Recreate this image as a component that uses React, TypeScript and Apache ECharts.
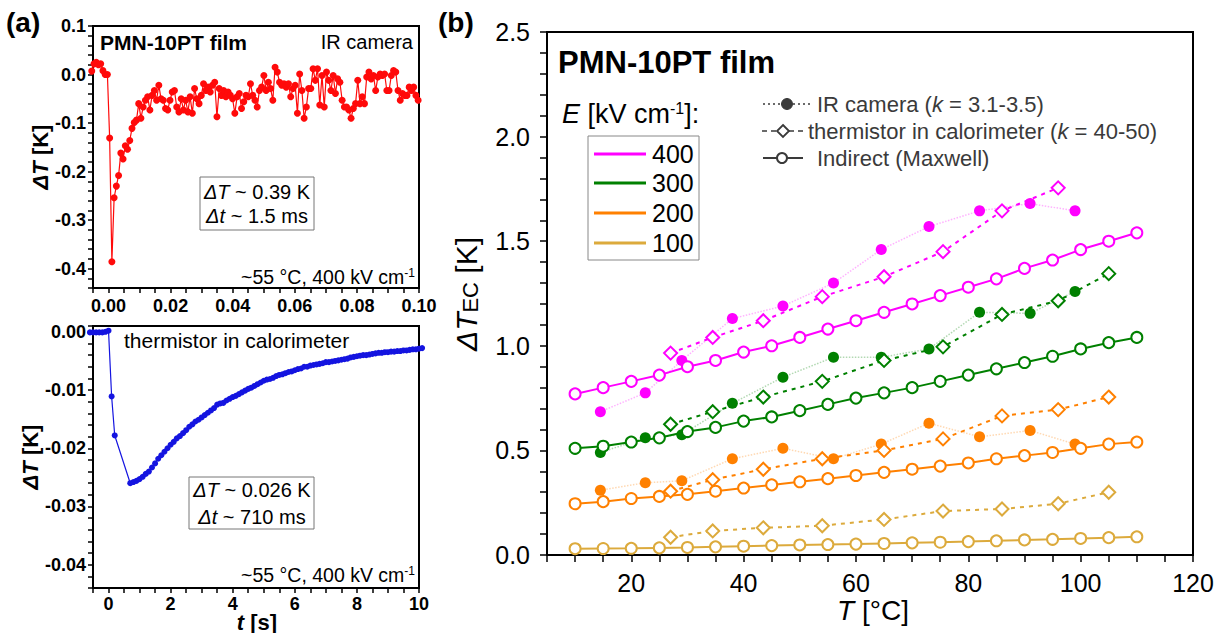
import React, { useEffect, useRef } from 'react';
import * as echarts from 'echarts';

const FONT = '"Liberation Sans", Arial, Helvetica, sans-serif';

// ---------- Panel (a) top: IR camera transient (frame period ~0.72 ms) ----------
const IR_T0 = -0.0054;
const IR_FRAME = 0.00072;
const IR_VALUES = [
  0.007, 0.022, 0.025, 0.02, 0.022, 0.008, 0, 0, -0.131, -0.386,
  -0.254, -0.23, -0.208, -0.162, -0.174, -0.147, -0.154, -0.136, -0.111, -0.099,
  -0.094, -0.06, -0.09, -0.067, -0.053, -0.046, -0.073, -0.043, -0.033, -0.053,
  -0.022, -0.05, -0.053, -0.07, -0.073, -0.053, -0.036, -0.033, -0.067, -0.077,
  -0.05, -0.073, -0.053, -0.077, -0.046, -0.08, -0.029, -0.05, -0.06, -0.043,
  -0.019, -0.033, -0.026, -0.036, -0.022, -0.016, -0.087, -0.029, -0.043, -0.033,
  -0.046, -0.036, -0.043, -0.05, -0.08, -0.046, -0.039, -0.07, -0.056, -0.043,
  -0.046, -0.019, -0.043, -0.053, -0.067, -0.033, -0.026, -0.002, -0.033, -0.016,
  -0.029, -0.053, 0.015, 0.005, -0.016, -0.022, -0.019, -0.026, -0.019, -0.046,
  -0.029, -0.022, -0.08, 0.001, -0.033, -0.09, -0.067, -0.029, -0.029, 0.012,
  -0.012, 0.012, -0.063, -0.002, -0.067, 0.005, -0.012, -0.033, -0.002, -0.039,
  -0.009, -0.016, -0.053, -0.067, -0.067, -0.073, -0.09, -0.07, -0.06, -0.012,
  -0.06, -0.046, -0.06, -0.005, 0.005, -0.009, -0.002, -0.033, -0.005, 0.001,
  -0.002, 0.001, -0.033, -0.033, -0.002, 0.008, 0.005, -0.033, -0.053, -0.039,
  -0.043, -0.043, -0.026, -0.033, -0.026, -0.043, -0.053,
];

// ---------- Panel (a) bottom: thermistor in calorimeter ----------
const TH_T_PRE = [-0.6, -0.5, -0.4, -0.3, -0.2, -0.1, 0, 0.1, 0.2];
const TH_V_PRE = [-0.0001, -0.0001, -0.0001, -0.0001, -0.0001, 0, 0.0002, -0.0111, -0.0178];
const TH_T_START = 0.7;
const TH_SAMPLE = 0.1;
const TH_VALUES = [
  -0.026, -0.0258, -0.0256, -0.0253, -0.0249, -0.0244, -0.024, -0.0233, -0.0226, -0.0218, -0.0212, -0.0206, -0.02,
  -0.0194, -0.0189, -0.0183, -0.0179, -0.0174, -0.0169, -0.0163, -0.0159, -0.0154, -0.0151,
  -0.0147, -0.0143, -0.0139, -0.0135, -0.0131, -0.0125, -0.0123, -0.0122, -0.0118, -0.0115,
  -0.0112, -0.011, -0.0107, -0.0104, -0.0101, -0.0098, -0.0096, -0.0093, -0.009, -0.0087,
  -0.0084, -0.0082, -0.0081, -0.0079, -0.0076, -0.0074, -0.0073, -0.0071, -0.0069, -0.0068,
  -0.0066, -0.0064, -0.0063, -0.006, -0.006, -0.0058, -0.0057, -0.0056, -0.0055, -0.0054,
  -0.0052, -0.0052, -0.0051, -0.005, -0.0049, -0.0048, -0.0047, -0.0046, -0.0044, -0.0043,
  -0.0042, -0.0041, -0.004, -0.004, -0.0039, -0.0038, -0.0037, -0.0036, -0.0036, -0.0035,
  -0.0035, -0.0034, -0.0034, -0.0033, -0.0033, -0.0032, -0.0032, -0.0031, -0.003, -0.003,
  -0.0029, -0.0028,
];

// ---------- Panel (b) ----------
const E_FIELDS = ['400', '300', '200', '100'];
const E_COLORS = ['#ff00ff', '#008000', '#ff8000', '#dcaa3c'];

const T_IND = [10, 15, 20, 25, 30, 35, 40, 45, 50, 55, 60, 65, 70, 75, 80, 85, 90, 95, 100, 105, 110];
const IND_400 = [0.77, 0.8, 0.83, 0.86, 0.9, 0.93, 0.97, 1.0, 1.04, 1.08, 1.12, 1.16, 1.2, 1.24, 1.28, 1.32, 1.37, 1.41, 1.46, 1.5, 1.54];
const IND_300 = [0.51, 0.52, 0.54, 0.56, 0.59, 0.61, 0.64, 0.66, 0.69, 0.72, 0.75, 0.775, 0.8, 0.83, 0.86, 0.89, 0.92, 0.95, 0.985, 1.015, 1.04];
const IND_200 = [0.245, 0.255, 0.27, 0.28, 0.29, 0.305, 0.32, 0.335, 0.35, 0.365, 0.38, 0.395, 0.41, 0.425, 0.44, 0.46, 0.475, 0.49, 0.51, 0.53, 0.54];
const IND_100 = [0.03, 0.031, 0.032, 0.034, 0.036, 0.039, 0.042, 0.045, 0.048, 0.05, 0.052, 0.055, 0.058, 0.061, 0.064, 0.068, 0.072, 0.075, 0.079, 0.083, 0.087];

const T_THERM = [27, 34.5, 43.5, 54, 65, 75.5, 86, 96, 105];
const THERM_400 = [0.965, 1.04, 1.12, 1.235, 1.33, 1.45, 1.645, 1.755];
const THERM_300 = [0.625, 0.685, 0.755, 0.83, 0.93, 0.995, 1.15, 1.215, 1.345];
const THERM_200 = [0.305, 0.36, 0.41, 0.46, 0.5, 0.555, 0.665, 0.695, 0.755];
const THERM_100 = [0.085, 0.115, 0.13, 0.14, 0.17, 0.21, 0.22, 0.245, 0.3];

const T_IR = [14.5, 22.5, 29, 38, 47, 56, 64.5, 73, 82, 91, 99];
const IR_400 = [0.685, 0.775, 0.93, 1.13, 1.19, 1.3, 1.46, 1.57, 1.645, 1.68, 1.645];
const IR_300 = [0.49, 0.56, 0.575, 0.725, 0.85, 0.945, 0.945, 0.985, 1.16, 1.155, 1.26];
const IR_200 = [0.31, 0.345, 0.355, 0.46, 0.51, 0.46, 0.53, 0.63, 0.565, 0.595, 0.53];
const IR_100: number[] = [];

const IND_SETS = [IND_400, IND_300, IND_200, IND_100];
const THERM_SETS = [THERM_400, THERM_300, THERM_200, THERM_100];
const IR_SETS = [IR_400, IR_300, IR_200, IR_100];

const zip = (xs: number[], ys: number[]) => ys.map((y, i) => [xs[i], y]);
const isMul = (v: number, step: number) => Math.abs(v / step - Math.round(v / step)) < 1e-6;

function makeAxis(
  gridIndex: number, min: number, max: number, interval: number, major: number,
  fmt: (v: number) => string, fontSize: number, bold: boolean, margin: number, tickLen = 5
) {
  return {
    type: 'value', gridIndex, min, max, interval,
    axisLine: { show: true, onZero: false, lineStyle: { color: '#000', width: 2 } },
    axisTick: { show: true, length: tickLen, lineStyle: { color: '#000', width: 1.5 } },
    splitLine: { show: false },
    axisLabel: {
      show: true, color: '#000', fontSize, fontFamily: FONT, fontWeight: bold ? 'bold' : 'normal', margin,
      formatter: (v: number) => (isMul(v, major) ? fmt(v) : ''),
    },
  };
}

function txt(x: number, y: number, text: string, size: number, o: any = {}) {
  const base = { fontSize: size, fontFamily: FONT, fontWeight: o.weight || 'normal', fill: o.fill || '#000' };
  return {
    type: 'text', x, y, rotation: o.rotation || 0, z: 100,
    style: {
      text, ...base, align: o.align || 'left', verticalAlign: 'middle',
      rich: {
        i: { ...base, fontStyle: 'italic' },
        sup: { ...base, fontSize: Math.round(size * 0.6), verticalAlign: 'top' },
        sub: { ...base, fontSize: Math.round(size * 0.72), verticalAlign: 'bottom' },
      },
    },
  };
}

export default function App() {
  const ref = useRef<HTMLDivElement>(null);
  useEffect(() => {
    document.body.style.margin = '0';
    const chart = echarts.init(ref.current!, undefined, { renderer: 'svg' });

    const irData = IR_VALUES.map((v, i) => [IR_T0 + i * IR_FRAME, v]);
    const thData = zip(TH_T_PRE, TH_V_PRE).concat(
      TH_VALUES.map((v, i) => [Math.round((TH_T_START + i * TH_SAMPLE) * 10) / 10, v])
    );

    const series: any[] = [
      {
        type: 'line', xAxisIndex: 0, yAxisIndex: 0, data: irData, clip: false,
        symbol: 'circle', symbolSize: 7, color: '#ff0a0a', lineStyle: { width: 1.2, color: '#ff0a0a' },
      },
      {
        type: 'line', xAxisIndex: 1, yAxisIndex: 1, data: thData, clip: false,
        symbol: 'circle', symbolSize: 6, color: '#1414e0', lineStyle: { width: 1.2, color: '#1414e0' },
      },
    ];

    E_FIELDS.forEach((_, k) => {
      const c = E_COLORS[k];
      if (IR_SETS[k].length) {
        series.push({
          type: 'line', xAxisIndex: 2, yAxisIndex: 2, data: zip(T_IR, IR_SETS[k]),
          symbol: 'circle', symbolSize: 11, color: c,
          itemStyle: { color: c },
          lineStyle: { type: 'dotted', width: 1.5, color: c, opacity: 0.3 },
        });
      }
      series.push({
        type: 'line', xAxisIndex: 2, yAxisIndex: 2, data: zip(T_THERM, THERM_SETS[k]),
        symbol: 'emptyDiamond', symbolSize: 13, color: c,
        itemStyle: { color: c, borderColor: c, borderWidth: 2.5 },
        lineStyle: { type: [4, 5], width: 2, color: c },
      });
      series.push({
        type: 'line', xAxisIndex: 2, yAxisIndex: 2, data: zip(T_IND, IND_SETS[k]),
        symbol: 'emptyCircle', symbolSize: 11, color: c,
        itemStyle: { color: c, borderColor: c, borderWidth: 2 },
        lineStyle: { type: 'solid', width: 2, color: c },
      });
    });

    const LG = '#3a3a3a';
    const graphics: any[] = [
      txt(6, 22, '(a)', 28, { weight: 'bold' }),
      txt(438, 22, '(b)', 28, { weight: 'bold' }),
      // panel a top
      txt(100, 42, 'PMN-10PT film', 21, { weight: 'bold' }),
      txt(413, 42, 'IR camera', 20, { align: 'right' }),
      { type: 'rect', z: 90, shape: { x: 200, y: 177, width: 114, height: 53 }, style: { fill: '#fff', stroke: '#777', lineWidth: 1 } },
      txt(257, 192, '{i|ΔT} ~ 0.39 K', 20, { align: 'center' }),
      txt(257, 216, '{i|Δt} ~ 1.5 ms', 20, { align: 'center' }),
      txt(415, 277, '~55 °C, 400 kV cm{sup|-1}', 19.5, { align: 'right' }),
      txt(40, 157, '{i|ΔT} [K]', 22, { weight: 'bold', align: 'center', rotation: Math.PI / 2 }),
      // panel a bottom
      txt(124, 340, 'thermistor in calorimeter', 21),
      { type: 'rect', z: 90, shape: { x: 189, y: 477, width: 125, height: 52 }, style: { fill: '#fff', stroke: '#777', lineWidth: 1 } },
      txt(252, 490, '{i|ΔT} ~ 0.026 K', 20, { align: 'center' }),
      txt(252, 517, '{i|Δt} ~ 710 ms', 20, { align: 'center' }),
      txt(415, 575, '~55 °C, 400 kV cm{sup|-1}', 19.5, { align: 'right' }),
      txt(30, 457, '{i|ΔT} [K]', 22, { weight: 'bold', align: 'center', rotation: Math.PI / 2 }),
      txt(257, 622, '{i|t} [s]', 22, { weight: 'bold', align: 'center' }),
      // panel b
      txt(558, 62, 'PMN-10PT film', 31, { weight: 'bold' }),
      txt(562, 114, '{i|E} [kV cm{sup|-1}]:', 27),
      { type: 'rect', z: 90, shape: { x: 588, y: 136, width: 111, height: 124 }, style: { fill: '#fff', stroke: '#888', lineWidth: 1 } },
      txt(466, 294, '{i|ΔT}{sub|EC} [K]', 30, { align: 'center', rotation: Math.PI / 2 }),
      txt(873, 610, '{i|T} [°C]', 28, { align: 'center' }),
      // marker legend
      { type: 'line', z: 100, shape: { x1: 763, y1: 104, x2: 812, y2: 104 }, style: { stroke: LG, lineWidth: 1.5, lineDash: [2, 3] } },
      { type: 'circle', z: 101, shape: { cx: 787, cy: 104, r: 5.5 }, style: { fill: LG, stroke: LG, lineWidth: 1 } },
      txt(817, 104, 'IR camera ({i|k} = 3.1-3.5)', 22, { fill: LG }),
      { type: 'line', z: 100, shape: { x1: 762, y1: 131, x2: 805, y2: 131 }, style: { stroke: LG, lineWidth: 1.5, lineDash: [5, 4] } },
      { type: 'polygon', z: 101, shape: { points: [[783, 125], [789, 131], [783, 137], [777, 131]] }, style: { fill: '#fff', stroke: LG, lineWidth: 1.8 } },
      txt(808, 131, 'thermistor in calorimeter ({i|k} = 40-50)', 22, { fill: LG }),
      { type: 'line', z: 100, shape: { x1: 763, y1: 158, x2: 803, y2: 158 }, style: { stroke: LG, lineWidth: 2 } },
      { type: 'circle', z: 101, shape: { cx: 782, cy: 158, r: 5 }, style: { fill: '#fff', stroke: LG, lineWidth: 2 } },
      txt(817, 158, 'Indirect (Maxwell)', 22, { fill: LG }),
    ];
    const legendY = [154, 183, 213, 243];
    E_FIELDS.forEach((e, k) => {
      graphics.push({ type: 'line', z: 100, shape: { x1: 594, y1: legendY[k], x2: 646, y2: legendY[k] }, style: { stroke: E_COLORS[k], lineWidth: 3 } });
      graphics.push(txt(652, legendY[k], e, 25));
    });

    const f1 = (v: number) => (Math.round(v * 10) / 10).toFixed(1);
    const f2 = (v: number) => (Math.round(v * 100) / 100).toFixed(2);
    const fi = (v: number) => String(Math.round(v));

    const option: any = {
      animation: false,
      backgroundColor: '#fff',
      grid: [
        { left: 93, top: 26, width: 326, height: 262, show: true, borderColor: '#000', borderWidth: 2, backgroundColor: 'transparent' },
        { left: 93, top: 326, width: 326, height: 262, show: true, borderColor: '#000', borderWidth: 2, backgroundColor: 'transparent' },
        { left: 547, top: 32, width: 646, height: 523, show: true, borderColor: '#000', borderWidth: 2, backgroundColor: 'transparent' },
      ],
      xAxis: [
        makeAxis(0, -0.005, 0.1, 0.005, 0.02, f2, 18, true, 9),
        makeAxis(1, -0.5, 10, 0.5, 2, fi, 18, true, 7),
        makeAxis(2, 5, 120, 5, 20, fi, 25, false, 15, 7),
      ],
      yAxis: [
        makeAxis(0, -0.44, 0.1, 0.02, 0.1, f1, 18, true, 7),
        makeAxis(1, -0.044, 0.001, 0.002, 0.01, f2, 18, true, 7),
        makeAxis(2, 0, 2.5, 0.1, 0.5, f1, 25, false, 17, 7),
      ],
      series,
      graphic: { elements: graphics },
    };
    chart.setOption(option);
    return () => chart.dispose();
  }, []);
  return <div ref={ref} style={{ width: 1225, height: 633 }} />;
}
